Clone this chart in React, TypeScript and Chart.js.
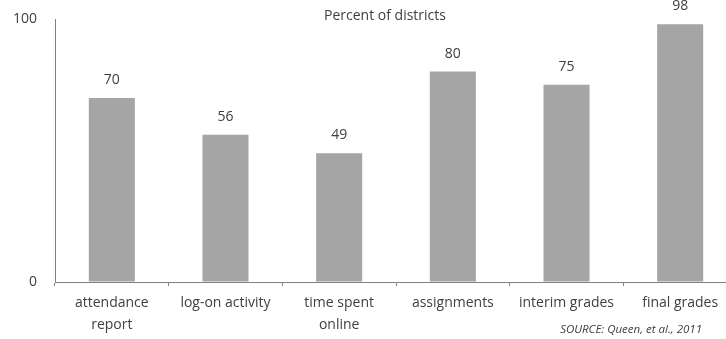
import React, { useEffect, useRef } from "react";
import { Chart, registerables } from "chart.js";

Chart.register(...registerables);

const categories: (string | string[])[] = [
  ["attendance", "report"],
  "log-on activity",
  ["time spent", "online"],
  "assignments",
  "interim grades",
  "final grades",
];
const percentValues = [70, 56, 49, 80, 75, 98];
const yTickValues = [0, 100];
const titleText = "Percent of districts";
const sourceText = "SOURCE: Queen, et al., 2011";

const FONT = "'Open Sans', sans-serif";
const TEXT = "#404040";

const annotations = {
  id: "annotations",
  afterDatasetsDraw(chart: any) {
    const ctx = chart.ctx;
    const meta = chart.getDatasetMeta(0);
    ctx.save();
    ctx.fillStyle = TEXT;
    ctx.font = `14px ${FONT}`;
    ctx.textAlign = "center";
    ctx.textBaseline = "middle";
    meta.data.forEach((bar: any, i: number) => {
      ctx.fillText(String(percentValues[i]), bar.x, bar.y - 18);
    });
    ctx.fillText(titleText, 385, 16);
    ctx.font = `italic 11.5px ${FONT}`;
    ctx.textAlign = "right";
    ctx.fillText(sourceText, 702, 330);
    ctx.restore();
  },
};

export default function App() {
  const ref = useRef<HTMLCanvasElement | null>(null);
  useEffect(() => {
    document.body.style.overflow = "hidden";
    const chart = new Chart(ref.current!, {
      type: "bar",
      data: {
        labels: categories,
        datasets: [
          {
            data: percentValues,
            backgroundColor: "#a5a5a5",
            barPercentage: 0.405,
            categoryPercentage: 1,
          },
        ],
      },
      options: {
        animation: false,
        responsive: false,
        maintainAspectRatio: false,
        layout: { padding: { top: 19, right: 8, left: 0, bottom: 0 } },
        plugins: { legend: { display: false }, tooltip: { enabled: false } },
        scales: {
          x: {
            offset: true,
            grid: {
              offset: true,
              drawOnChartArea: false,
              drawTicks: true,
              tickLength: 4,
              color: "#808080",
            },
            border: { display: true, color: "#808080", width: 1 },
            ticks: {
              color: TEXT,
              font: { family: FONT, size: 14, lineHeight: 1.55 },
              padding: 6,
              maxRotation: 0,
              autoSkip: false,
            },
            afterFit(scale: any) {
              scale.height = 57;
              scale.paddingLeft = 0;
              scale.paddingRight = 0;
            },
          },
          y: {
            min: 0,
            max: 100,
            afterBuildTicks(scale: any) {
              scale.ticks = yTickValues.map((v) => ({ value: v }));
            },
            grid: { drawOnChartArea: false, drawTicks: false },
            border: { display: true, color: "#808080", width: 1 },
            ticks: {
              color: TEXT,
              font: { family: FONT, size: 14 },
              padding: 18,
            },
            afterFit(scale: any) {
              scale.width = 55;
              scale.paddingTop = 0;
              scale.paddingBottom = 0;
            },
          },
        },
      },
      plugins: [annotations],
    });
    return () => chart.destroy();
  }, []);
  return (
    <div style={{ position: "absolute", left: 0, top: 0, width: 745, height: 339, background: "#fff" }}>
      <canvas ref={ref} width={745} height={339} style={{ display: "block" }} />
    </div>
  );
}
